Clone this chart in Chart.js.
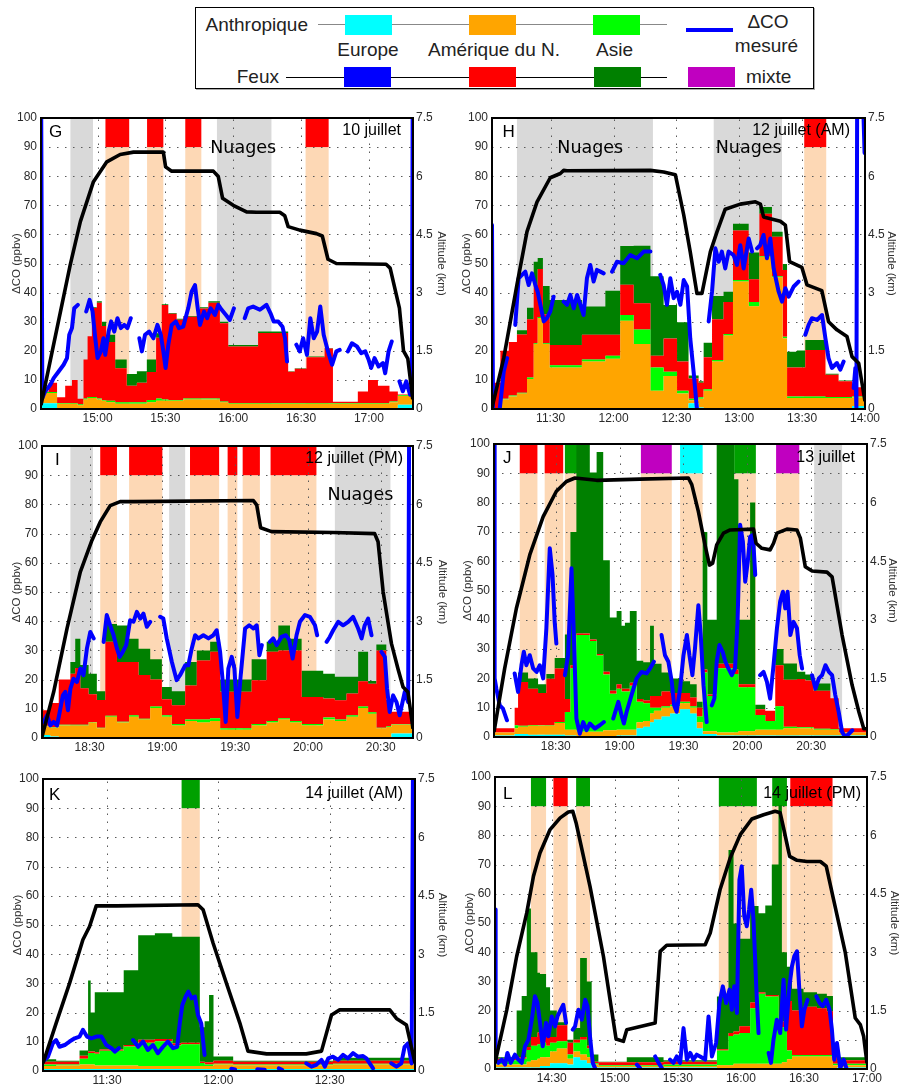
<!DOCTYPE html>
<html><head><meta charset="utf-8">
<script src="https://cdn.jsdelivr.net/npm/chart.js@4.4.1/dist/chart.umd.min.js"></script>
<style>
html,body{margin:0;padding:0;background:#fff;}
body{position:relative;width:901px;height:1084px;overflow:hidden;font-family:"Liberation Sans",Arial,sans-serif;color:#222;}
canvas{position:absolute;}
.abs{position:absolute;}
.lt{position:absolute;font-size:19px;line-height:19px;white-space:nowrap;color:#222;}
.c{transform:translateX(-50%);}
</style></head><body>
<div class="abs" style="left:195px;top:7px;width:617px;height:80px;border:1.5px solid #000;box-shadow:1px 1px 0 #aaa;"></div>
<div class="lt" style="right:593px;top:14.6px;">Anthropique</div>
<div class="abs" style="left:318px;top:23.5px;width:349px;height:1.7px;background:#888;"></div>
<div class="abs" style="left:345px;top:15px;width:47px;height:20px;background:#00ffff;"></div>
<div class="abs" style="left:469px;top:15px;width:47px;height:20px;background:#ffa500;"></div>
<div class="abs" style="left:593px;top:15px;width:47px;height:20px;background:#00ff00;"></div>
<div class="lt c" style="left:368px;top:40px;">Europe</div>
<div class="lt c" style="left:494px;top:40px;">Amérique du N.</div>
<div class="lt c" style="left:614.5px;top:40px;">Asie</div>
<div class="lt" style="right:622px;top:66.6px;">Feux</div>
<div class="abs" style="left:286px;top:76.8px;width:381px;height:1.7px;background:#000;"></div>
<div class="abs" style="left:344px;top:67px;width:47px;height:20px;background:#0000ff;"></div>
<div class="abs" style="left:469px;top:67px;width:47px;height:20px;background:#ff0000;"></div>
<div class="abs" style="left:594px;top:67px;width:47px;height:20px;background:#008000;"></div>
<div class="abs" style="left:688px;top:67px;width:47px;height:20px;background:#c000c0;"></div>
<div class="lt" style="left:746px;top:66.6px;">mixte</div>
<div class="abs" style="left:686px;top:28px;width:47px;height:4px;background:#0000ff;"></div>
<div class="lt c" style="left:768px;top:11.6px;">ΔCO</div>
<div class="lt c" style="left:766.5px;top:35.6px;">mesuré</div>
<script>
// ===== DATA (times in minutes since midnight, ΔCO in ppbv, altitude in km) =====
// ---- G : 10 juillet ----
const G_range = [875, 1039.5];
const G_t   = [875.0,878.4,882.1,885.7,888.7,891.2,893.8,895.6,897.5,899.7,901.9,903.8,907.8,912.9,917.4,921.8,925.9,928.4,931.3,935.0,937.9,945.3,949.0,954.1,957.8,971.0,984.3,987.2,992.4,1000.4,1004.1,1015.1,1019.6,1024.0,1029.1,1032.8,1039.5];
const G_euAnthro = [2,2,0.3,0.3,0.3,0.3,0.3,0.3,0.3,0.3,0.3,0.3,0.3,0.3,0.3,0.3,0.3,0.3,0.3,0.3,0.3,0.3,0.3,0.3,0.3,0.3,0.3,0.3,0.3,0.3,0.3,0.3,0.3,0.3,0.3,1.5,1.5];
const G_naAnthro = [3.5,3.5,1.5,1.5,1.5,1,3,3.5,3.5,3,2.5,2,1.5,1.5,1.5,2,2.5,2.5,2.5,2.5,3,3,3,2,1.5,1.5,1.5,1.5,1.5,1.5,1.5,1.5,1.5,1.5,2,3,3];
const G_asAnthro = [0.3,0.3,0.3,0.3,0.3,0.3,0.3,0.3,0.3,0.3,0.3,0.5,0.5,0.5,0.5,0.8,0.8,0.5,0.3,0.3,0.3,0.3,0.3,0.3,0.3,0.3,0.3,0.3,0.3,0.3,0.3,0.3,0.3,0.3,0.3,0.2,0.2];
const G_naFire = [0.2,3.2,1.9,5.9,7.9,1.9,13.4,20.9,30.6,32.9,25.4,20.2,11.7,5.7,6.7,9.6,20.9,32.4,29.6,27.6,28.1,30.9,32.9,26.9,19.4,24,10.7,11.7,15.7,18.7,0.4,3.9,7.9,5.9,3.4,0.3,0.3];
const G_asFire = [0,0,0,0,0,0,0,0,0.3,0.5,1.5,2.5,3,4,4,4.3,1.5,0.3,0.3,0.3,0.3,0.5,0.5,0.5,0.5,0.5,0.2,0.2,0.2,0.2,0,0,0,0,0,0,0];
const G_coMeasured = [[875.0,120],[875.6,3.8],[876.9,6.1],[879.1,8.3],[880.6,10.6],[882.8,12.9],[885.0,15.2],[886.5,17.5],[887.5,25.5],[888.7,27.8],[889.7,34.6],[891.3,35.8],null,
 [895.0,33.5],[896.5,37.5],[897.8,33.5],[899.0,24.3],[900.0,17.5],[901.5,19.8],[902.6,24.3],[903.4,18.6],[904.9,26.6],[906.0,30.1],[907.4,26.6],[908.8,31.2],[910.3,27.8],[911.8,28.9],[913.2,27.8],[914.7,31.2],null,
 [918.5,24.3],[919.6,19.8],[921.0,25.5],[922.8,26.6],[924.7,24.3],[926.5,28.9],[928.0,25.5],[929.1,19.8],[930.1,14.1],[931.3,22.1],[932.8,28.9],[934.6,30.1],[936.0,27.8],[937.9,28.3],[940.1,34.6],[941.6,40.3],[943.1,42.6],[944.1,35.8],[945.3,28.9],[947.1,33.5],[948.5,31.2],[950.0,34.6],[951.9,32.3],[953.4,35.8],[954.9,34.1],[956.8,32.3],[958.5,30.6],[960.3,34.6],null,
 [965.1,31.2],[966.6,34.6],[968.8,35.2],[971.8,34.1],[974.7,35.8],[976.5,32.9],[977.9,30.1],[979.9,30.1],[981.8,28.3],[982.9,24.3],[983.8,16.3],null,
 [987.9,22.1],[989.4,19.8],[990.9,24.3],[992.6,18.6],[994.1,31.2],[995.6,24.3],[997.1,26.6],[998.5,35.2],[1000.0,25.5],[1001.9,19.8],[1003.7,15.2],[1005.6,19.8],[1007.1,20.3],null,
 [1010.7,19.8],[1012.5,22.6],[1014.7,21.5],[1016.6,19.2],[1018.4,19.8],[1019.9,16.9],[1021.0,14.1],[1022.5,17.5],[1024.3,14.6],[1026.2,15.8],[1027.2,12.3],[1028.7,19.8],[1030.1,23.2],null,
 [1033.5,9.5],[1035.0,6.1],[1036.5,9.5],[1038.2,4.9],[1039.0,6],[1039.4,120]];
const G_altitude = [[875.0,0.1],[887.9,3.71],[892.4,4.83],[898.2,5.86],[904.1,6.37],[910.0,6.56],[915.9,6.62],[929.1,6.62],[930.1,6.24],[932.8,6.13],[951.2,6.13],[953.4,5.99],[955.3,5.43],[960.0,5.25],[965.9,5.08],[970.3,5.07],[980.6,5.07],[982.8,4.98],[984.3,4.70],[989.4,4.61],[996.8,4.52],[999.4,4.46],[1001.9,3.86],[1005.6,3.75],[1027.6,3.73],[1029.4,3.63],[1033.5,2.6],[1035.3,1.5],[1037.2,1.3],[1039.4,0.25]];
const G_clouds = [[888,898],[952.8,976.9]];
const G_plumes = [[903.5,914,'na'],[921.9,929.1,'na'],[938.8,945.9,'na'],[992,1002.2,'na']];
const G_cloudLabels = [[964.4,88]];

// ---- H : 12 juillet (AM) ----
const H_range = [662, 840];
const H_t = [662.0,666.0,670.0,673.9,678.7,681.9,683.8,686.3,689.5,704.9,716.1,723.2,729.6,737.6,743.9,750.3,755.8,760.6,763.0,767.0,772.5,777.0,784.5,789.6,795.6,800.7,802.8,807.5,811.5,821.1,827.4,833.8,840];
const H_euAnthro = [0.3,0.3,0.3,0.3,0.3,0.3,0.3,0.3,0.3,0.3,0.3,0.3,0.3,0.3,0.3,0.3,2,0.5,0.3,0.3,0.3,0.3,0.3,0.3,0.3,0.3,0.3,0.3,0.3,0.3,0.3,1,1];
const H_naAnthro = [0,3,4,5,10,22,31,22,14,16,17,30,22,6,11,5,1,3,6,16,25,43.5,35,52,45,24,3.5,3.5,3.5,3.5,3.5,3,3];
const H_asAnthro = [0,0.2,0.3,0.3,0.5,0.3,0.3,0.3,0.7,0.7,1,2,5,8,1.5,1,0.5,0.5,0.5,0.5,0.5,0.5,1.5,0.3,0.3,0.5,0.5,0.5,0.5,0.3,0.3,0.3,0.3];
const H_naFire = [8.7,16.5,18.4,20,20,20,16.5,10,7,8.5,7.2,10.4,9,4,11.4,10,7,5,11,14,11,17,7.8,14.5,13.6,23,10,10,16,7.7,5.4,3.2,3.2];
const H_asFire = [0,0,0,1.5,4,8,3.8,9.7,15.5,9.7,15.1,13.3,19.8,27.3,11.5,13.5,1,0.5,5,8,3.5,2.4,9.2,2.3,1.7,2,5.4,5.8,3.4,0.3,0.3,0,0];
const H_coMeasured = [[662.0,63.2],[662.5,0],null,[665.7,0],[667.6,12.9],[669.2,17.5],null,
 [673.1,28.9],[674.7,44.9],[676.3,46.1],[677.9,47.2],[679.5,42.6],[681.1,46.6],[682.7,42.6],[683.8,40.3],[685.1,35.8],[686.7,30.1],[688.2,31.2],[689.8,33.5],[691.4,38.6],null,
 [696.2,36.9],[697.8,35.8],[699.4,39.2],[701.0,34.6],[702.6,39.2],[704.2,35.8],[705.7,32.3],[707.3,44.9],[708.9,49.5],[710.5,43.8],[712.1,47.8],[713.7,47.2],[715.3,46.6],null,
 [719.3,47.2],[721.6,50.6],[724.8,50.1],[728.0,52.9],[731.2,51.8],[734.4,54.1],[737.6,54.1],null,
 [742.3,46.1],[743.9,42.6],[745.5,35.8],[747.1,44.9],[748.7,38.1],[750.3,40.3],[751.9,35.8],[753.5,44.3],[755.1,42.1],[756.6,24.3],[758.2,12.9],[759.8,0],null,
 [765.4,30.1],[767.0,40.3],[768.6,55.2],[770.2,50.6],[771.7,54.1],[773.3,48.3],[774.9,54.1],[777.3,52.9],[778.9,49.5],[780.5,56.3],[782.1,48.3],[784.5,58.6],[786.1,54.1],null,
 [788.5,55.2],[790.0,56.3],[791.6,59.8],[793.2,51.8],[794.8,58.6],[796.4,48.3],[798.8,40.3],[800.4,36.9],[802.0,41.5],[803.6,38.6],[806.0,42.1],[808.3,43.8],null,
 [811.5,25.5],[813.1,28.9],[814.7,31.2],[817.1,30.6],[819.5,32.3],[821.1,24.3],[822.6,17.5],[824.2,14.1],[826.6,15.8],[828.2,13.5],[829.8,16.3],null,
 [834.6,7.2],[835.4,14.1],[835.9,0],[836.3,120],null,[838.9,110],[839.8,88]];
const H_altitude = [[662.0,0.03],[667.6,1.31],[673.9,3.2],[678.7,4.57],[683.5,5.34],[689.8,5.96],[694.6,6.07],[696.2,6.15],[697.8,6.14],[737.6,6.15],[743.9,6.11],[749.5,6.04],[753.5,5.0],[756.6,4.05],[759.8,2.98],[762.2,2.98],[766.2,4.05],[769.4,4.57],[773.3,5.15],[780.5,5.28],[787.7,5.34],[790.1,5.28],[791.6,4.95],[799.6,4.84],[802.0,4.74],[804.0,3.8],[809.9,3.65],[812.3,3.2],[819.4,3.05],[822.6,2.25],[826.6,2.04],[831.4,1.87],[833.8,1.35],[837.0,1.18],[840,0.2]];
const H_clouds = [[673.9,738.8],[767.8,800.4]];
const H_plumes = [[811,821.5,'na']];
const H_cloudLabels = [[708.9,88],[784.5,88]];

// ---- I : 12 juillet (PM) ----
const I_range = [1090.4, 1243.3];
const I_t = [1090.4,1093.8,1097.3,1102.1,1104.1,1106.2,1109.6,1113.0,1116.5,1121.3,1126.3,1130.2,1135.0,1139.8,1143.9,1149.4,1154.2,1159.7,1163.8,1176.8,1183.0,1187.8,1192.6,1197.4,1206.3,1211.1,1215.9,1220.7,1224.8,1228.2,1232.3,1234.4,1243.3];
const I_euAnthro = [1,0.5,0.3,0.3,0.3,0.3,0.3,0.3,0.3,0.3,0.3,0.3,0.3,0.3,0.3,0.3,0.3,0.3,0.3,0.3,0.3,0.3,0.3,0.3,0.3,0.3,0.3,0.3,0.3,0.3,0.3,1.5,1.5];
const I_naAnthro = [3,3,4,4,4,4,5,3,7,5,7,6,10,7,4,5.5,5,5.5,2.5,4,5,6,5,4,6,5.5,7,10,8,3,3.5,3,3];
const I_asAnthro = [0.2,0.2,0.2,0.2,0.2,0.2,0.2,0.2,0.3,0.3,0.5,0.3,0.5,0.5,0.5,0.5,1,1,0.5,0.5,0.5,0.5,0.5,0.5,0.7,0.5,0.5,0.5,0.5,0.2,0.2,0.2,0.2];
const I_naFire = [5.3,8.3,15.5,17.5,19.5,12.5,9.5,9.5,25.4,20.4,18.2,15,9.2,5.5,6.4,11.7,20.2,22.7,12.5,15,23.7,23.2,24.2,9.2,6.5,6.6,7.4,8.6,9.8,26.5,9,4.3,4.3];
const I_asFire = [0,0,0,4,10,8,7,3,6,12.5,8,9,7,4.2,4.8,8,3.5,3.5,4.2,7.2,3.5,8.5,4,9,8.5,8.1,5.8,10.1,0.9,2,0,0,0];
const I_coMeasured = [[1091.1,5.5],[1092.5,7.8],[1093.8,4.3],[1095.2,5.5],[1096.6,4.3],[1097.7,8.9],[1099.0,14.6],[1100.0,15.8],[1101.1,9.5],[1102.1,16.9],[1103.4,20.3],[1104.8,19.2],[1106.2,23.8],[1107.5,21.5],[1108.9,30.6],[1110.3,36.3],[1111.7,34.1],null,
 [1115.8,32.9],[1117.1,42.1],[1118.5,38.6],[1119.9,35.2],[1121.3,30.6],[1122.4,27.8],[1123.7,29.5],[1125.1,31.8],[1126.7,40.3],[1128.1,39.8],[1129.5,43.2],[1130.9,40.9],[1132.2,42.6],[1133.6,38.1],[1135.0,39.8],null,
 [1139.1,41.5],[1140.4,40.9],[1141.8,34.1],[1143.9,26.1],[1145.9,19.8],[1147.3,21.5],[1149.4,24.9],[1150.7,24.9],[1152.1,30.6],[1153.5,35.2],[1154.9,34.1],[1156.9,35.2],[1159.0,34.1],[1161.0,35.2],[1162.4,36.9],[1163.8,29.5],[1164.9,19.2],[1166.1,5.5],[1167.2,23.8],[1168.6,27.8],[1169.7,23.8],[1170.9,7.2],[1172.3,21.5],[1174.1,37.5],[1175.8,38.6],[1177.5,37.5],[1178.9,38.6],[1180.0,28.3],[1181.0,31.8],null,
 [1184.3,32.9],[1185.7,34.1],[1187.1,31.8],[1189.1,34.6],[1190.9,35.2],[1192.3,33.5],[1193.7,27.2],[1195.3,35.2],[1196.7,39.8],[1198.8,42.1],[1200.8,41.5],[1202.9,38.6],[1203.8,35.2],null,
 [1207.7,32.9],[1209.0,34.6],[1210.4,36.9],[1212.5,39.8],[1214.5,38.6],[1216.6,39.8],[1218.6,41.5],[1220.7,37.5],[1222.1,34.1],[1223.4,38.6],[1224.8,40.9],[1226.2,35.2],null,
 [1230.3,29.5],[1231.7,27.8],[1232.6,16.9],[1233.7,8.9],[1235.1,14.6],[1236.5,12.3],[1237.8,7.8],[1239.9,15.8],[1241.3,12.3],[1241.8,130]];
const I_altitude = [[1090.4,0.03],[1095.2,1.18],[1100.7,2.81],[1106.2,4.27],[1111.0,5.08],[1114.4,5.55],[1118.5,5.97],[1122.6,6.07],[1128.1,6.07],[1177.5,6.1],[1178.9,5.98],[1180.5,5.4],[1185.0,5.3],[1210.4,5.28],[1227.5,5.25],[1228.9,5.04],[1231.0,3.75],[1234.4,2.43],[1237.1,1.78],[1239.2,1.31],[1241.2,1.18],[1243.3,0.24]];
const I_clouds = [[1102.1,1111.4],[1142.8,1149.4],[1211.1,1234.0]];
const I_plumes = [[1114.4,1121.3,'na'],[1126.3,1140.0,'na'],[1151.4,1163.4,'na'],[1166.9,1170.9,'na'],[1173.1,1180.2,'na'],[1184.6,1203.5,'na']];
const I_cloudLabels = [[1221.6,81.5]];

// ---- J : 13 juillet ----
const J_range = [1081, 1256.2];
const J_t = [1081.0,1090.7,1092.3,1097.0,1101.7,1105.6,1109.5,1114.3,1116.9,1119.7,1122.9,1126.0,1129.2,1132.3,1135.4,1138.6,1140.9,1142.5,1144.8,1148.0,1151.1,1154.3,1156.1,1159.7,1163.7,1168.4,1173.1,1176.2,1179.0,1181.2,1185.6,1193.8,1195.8,1201.3,1203.7,1208.4,1213.1,1217.0,1223.3,1227.2,1231.1,1239.0,1242.9,1256.2];
const J_euAnthro = [0.5,1,1,0.8,0.8,0.8,0.8,0.5,0.5,0.3,0.3,0.3,0.3,0.3,0.3,0.5,0.5,0.5,0.5,3,3.5,5,6,7,8,9.5,8,3,1,1,0.5,0.5,0.5,0.5,0.5,0.5,0.5,0.5,0.5,0.5,0.5,0.5,0.5,0.5];
const J_naAnthro = [1,2,2.5,3,3,3,4,2,2,1.5,1.5,1.5,1.5,2,2,2,2,2,2,2,2,3,3,3,2.5,2,2,2,1,1,1,1,1.5,1.5,2,2,2,2.5,2.5,2.5,2,2,1,1];
const J_asAnthro = [0,1,0.3,0.3,0.2,0.2,0.3,6,21,33,33,31,26,19,12.5,14,13,13,15,7,6,2,1,0.5,0.5,0.5,0.5,2,20,12,22,20,15,15,5,3,8,0.5,0.3,0.3,0.3,0.2,0,0];
const J_naFire = [1.5,6,15,12.4,11,15.9,18.3,4.5,1,0.5,0.5,0.5,0.5,1,1,1.5,1,1,1,1,1,4,4,5,4,3,3,3,1,0.5,1.5,1.5,1,1,2,3.5,14,16,16.5,16,13,10.5,1.5,1.5];
const J_asFire = [0,0,3.2,3.5,3,1.6,3.6,22,45.5,65,65,57,69,38,25,25,21.5,22.5,24.5,13,13,24,11,6.5,5,4,4.5,2,47,25.5,75,65,22,62,1.5,0,5.5,5.6,2.5,2,2.5,0,0,0];
const J_coMeasured = [[1081.0,120],[1081.3,20],[1082.1,16.5],[1083.7,10.8],[1085.2,9.7],[1087.1,5.7],null,
 [1090.7,21.7],[1092.3,15.4],[1093.9,24.5],[1095.0,29.1],[1096.2,24.5],[1097.8,27.9],[1099.4,23.4],[1101.0,22.2],[1102.5,24.5],[1104.1,20.0],[1105.6,37.1],[1107.2,64.4],[1108.5,55.3],[1109.5,39.3],[1110.3,31.9],null,
 [1114.3,21.1],[1115.8,27.9],[1117.4,57.6],[1118.5,34.8],[1119.7,6.3],[1121.3,1.1],[1122.9,5.1],[1124.5,2.3],[1126.0,4.6],[1128.4,2.9],[1130.7,4.0],[1132.6,5.1],null,
 [1137.0,6.3],[1139.4,12.0],[1140.9,7.4],[1142.0,4.6],[1143.3,8.6],[1145.6,14.3],[1148.0,20.0],[1150.3,22.2],[1152.7,21.7],[1154.3,23.4],[1156.1,25.7],null,
 [1159.7,34.8],[1161.3,27.9],[1162.9,25.7],[1164.5,18.8],[1165.6,10.8],[1166.8,8.6],[1168.4,16.5],[1170.0,27.9],[1171.6,34.8],[1172.8,27.9],[1174.2,21.1],[1175.4,30.2],[1177.0,45.0],[1178.1,34.8],[1179.4,17.7],[1180.9,5.1],null,
 [1183.3,10.8],[1184.5,13.1],[1185.6,25.7],[1186.9,31.4],[1188.4,29.1],[1189.7,25.7],[1191.1,23.4],[1192.7,21.1],[1194.2,23.4],[1195.4,39.3],[1196.6,72.4],[1197.9,66.7],[1199.0,53.0],[1200.2,59.9],[1201.3,68.4],[1202.6,69.0],[1203.7,55.3],null,
 [1206.0,21.1],[1207.6,22.2],[1209.2,18.8],[1210.7,13.1],[1212.3,24.5],[1213.9,37.1],[1215.4,46.2],[1216.7,49.6],[1217.8,43.9],[1218.9,49.6],[1220.2,34.8],[1221.7,39.3],[1223.3,37.1],[1224.6,27.9],[1225.7,23.4],null,
 [1230.4,21.1],[1232.0,16.5],[1233.6,20.0],[1235.1,21.1],[1236.7,24.5],[1238.3,22.2],[1239.8,21.1],[1241.3,14.3],[1242.9,8.6],[1244.5,1.7],[1246.1,0],[1247.7,1.1],[1249.3,2.3]];
const J_altitude = [[1081.0,0.13],[1086.0,1.75],[1091.5,3.29],[1097.8,4.66],[1104.1,5.64],[1110.3,6.29],[1115.0,6.54],[1119.0,6.63],[1129.2,6.57],[1149.5,6.6],[1172.3,6.63],[1173.9,6.46],[1177.0,5.77],[1180.1,4.92],[1182.2,4.40],[1183.7,4.45],[1185.6,4.92],[1188.8,5.22],[1191.9,5.30],[1202.9,5.32],[1204.1,4.96],[1206.8,4.83],[1210.7,4.79],[1212.3,4.96],[1213.9,5.22],[1218.6,5.32],[1223.3,5.30],[1224.9,5.09],[1227.2,4.36],[1230.4,4.25],[1237.4,4.22],[1239.8,4.10],[1244.5,2.61],[1249.2,1.33],[1252.4,0.64],[1254.7,0.21],[1256.2,0.21]];
const J_clouds = [[1231.4,1244.5]];
const J_plumes = [[1093.1,1101.4,'na'],[1104.8,1113.5,'na'],[1114.3,1122.9,'as'],[1150.0,1164.5,'mix'],[1168.4,1179.0,'eu'],[1193.8,1204.0,'as'],[1213.5,1224.4,'mix']];
const J_cloudLabels = [];

// ---- K : 14 juillet (AM) ----
const K_range = [672.75, 773];
const K_t = [672.75,676.3,682.6,684.9,685.6,686.7,688.0,694.5,698.4,702.9,707.6,710.0,715.0,716.3,717.5,718.7,724.0,750.9,773];
const K_euAnthro = [0.7,0.7,0.7,0.7,0.7,0.7,0.7,0.7,0.7,0.7,0.7,0.7,0.7,0.7,0.7,0.7,0.7,0.7,0.7];
const K_naAnthro = [1,1.2,1.5,1.5,1.5,1.2,1.2,1.2,1,1,1,1,1,1,1,1.5,1.3,1.5,1.5];
const K_asAnthro = [0.5,0.3,2,4,4,4,5,6.5,8,8.5,7,7.5,1,0.5,0.5,0.3,0.2,0.3,0.3];
const K_naFire = [1,1,1,0.5,0.5,0.5,0.5,0.5,1,0.8,0.8,0.5,0.5,0.8,0.8,1,1,1,1];
const K_asFire = [0.8,0.3,1.8,24.3,13.3,20.6,19.6,25.6,35.8,36.2,36.5,36.3,11.8,14,23,1.5,0.3,1,1];
const K_coMeasured = [[673.2,3.8],[674.1,4.9],[675.4,9.5],[676.3,10.6],[677.2,8.3],[678.6,8.9],[679.9,10.1],[681.3,11.2],[682.6,11.8],[683.5,14.1],[684.6,11.8],[685.8,11.2],[687.1,11.8],[688.5,11.8],[689.8,8.9],[691.2,7.8],[692.1,6.6],[693.2,7.8],null,
 [697.0,10.6],[698.4,8.3],[699.7,10.1],[701.0,7.2],[702.4,8.9],[703.7,6.1],[705.1,8.3],[706.4,10.1],[707.8,7.8],[708.9,8.3],[709.6,16.3],[710.3,22.6],[711.2,25.5],[711.9,27.2],[712.8,24.9],[713.7,25.5],[714.5,19.2],[715.4,16.3],[716.3,5.5],null,
 [723.5,0.8],[724.5,0.5],null,[730.5,0.6],[732.5,0.4],null,[736.3,0.9],[737.2,0.4],null,
 [743.7,2.6],[745.1,1.5],[746.4,2.1],[747.8,3.8],[748.7,1.5],[749.6,4.3],[750.9,4.9],[752.3,3.8],[753.6,5.5],[754.9,4.3],[756.3,6.1],[757.6,4.9],[759.0,5.1],[759.9,4.3],[760.8,2.6],[761.7,0.9],null,
 [766.6,2.6],[768.0,1.5],[769.3,2.6],[770.2,8.3],[771.1,9.5],[772.1,2.6],[772.5,120]];
const K_altitude = [[672.75,0.2],[676.3,1.23],[679.9,2.25],[683.5,3.37],[685.3,3.71],[687.1,4.24],[692.5,4.24],[714.5,4.27],[715.9,4.14],[718.6,3.28],[722.2,2.25],[725.8,1.23],[728.0,0.51],[733.0,0.44],[743.7,0.44],[747.8,0.51],[750.5,1.44],[752.7,1.57],[766.2,1.57],[768.0,1.35],[770.7,1.18],[773.0,0.2]];
const K_clouds = [];
const K_plumes = [[710.1,715.0,'as']];
const K_cloudLabels = [];

// ---- L : 14 juillet (PM) ----
const L_range = [843, 1020];
const L_t = [843.0,853.3,855.7,858.1,860.1,863.2,864.4,867.3,869.2,872.4,877.4,880.3,883.5,886.7,889.0,892.2,905.7,923.2,948.6,954.1,956.5,959.3,964.4,968.4,971.6,974.7,977.9,979.5,981.9,984.3,989.8,996.2,1000.9,1003.8,1005.7,1020];
const L_euAnthro = [0.5,0.5,0.5,0.5,0.5,0.5,1,1,2,2,1.5,4,3,2,0.5,0.5,0.5,0.5,0.3,0.3,0.3,0.3,0.3,0.3,0.3,0.3,0.3,0.3,0.3,0.3,0.3,0.3,0.3,0.3,0.5,0.5];
const L_naAnthro = [1,1,1,2,2.5,3,3,3,4,5,2,2,2,2,1,0.5,0.5,0.5,1,1,1.5,1.5,1.5,1.5,1.5,1.5,1.5,2,3,4,4,4,4,1,0.8,0.8];
const L_asAnthro = [1.5,2,2,4,5,5,5,4,3,2.5,1.5,3,5,3,0.5,0.3,0.3,0.5,5,10,10,10.5,19,24,23,23,12,12,3,0.5,0.5,0.5,0.5,0.5,0.5,0.5];
const L_naFire = [0.5,0.5,0.5,1,3,4,3,3,2,5.5,4,1,1,1,0.5,1,1,1,0.5,1,1,2.3,2,0.5,0.5,0.5,0.5,2,17,15.2,16.5,16,15,4,1.2,1.2];
const L_asFire = [0.5,16,21,47.5,29,20.5,20.5,17,9,1,1,4,27,22,2.5,0.2,1.7,0.5,18,62.7,37,30,33,27,30.7,44.7,76,23.7,11.7,7.5,5,5,5.2,2.2,1,1];
const L_coMeasured = [[843.0,54.6],[843.3,3],[844.6,2.1],[846.2,3.2],[847.8,1.5],[848.9,5.5],[850.5,2.1],[852.5,4.9],[854.1,3.2],[855.7,2.1],[857.3,7.8],[858.9,10.0],[860.5,16.9],[862.0,24.9],[863.2,22.6],[864.4,15.8],[865.7,7.8],[867.3,15.8],[868.4,11.2],[870.0,18.0],[871.6,14.6],[872.7,18.0],[874.3,20.3],[875.5,22.0],[876.8,15.8],null,
 [880.0,13.5],[881.1,14.6],[882.7,20.3],[884.3,16.9],[885.9,23.7],[887.0,21.5],[888.2,11.2],[889.5,2.1],[890.6,0.3],null,
 [910.5,1.5],[912.0,0.3],null,[919.2,4.3],[920.8,2.1],[922.4,0.3],null,
 [926.3,3.2],[927.9,2.1],[929.5,4.3],[931.1,2.1],[932.7,14.0],[934.3,3.2],[935.9,5.5],[937.4,3.2],[939.0,4.9],[940.6,4.3],[943.0,3.2],[944.6,18.0],[946.2,4.3],[948.2,8.9],[949.8,22.6],[951.4,28.3],[953.0,22.6],[954.6,27.2],[955.7,20.3],[956.8,28.3],[958.1,19.2],[959.3,64.8],[960.4,69.4],[961.6,52.3],[962.8,48.9],[963.9,54.6],[964.9,61.4],[966.0,51.1],[967.3,28.3],[968.4,12.3],null,
 [973.2,5.5],[974.3,2.1],[975.5,10.0],[977.1,16.9],[978.7,12.3],[980.3,30.6],[981.5,13.5],[983.1,28.3],[984.3,35.2],[985.4,38.6],[986.7,40.3],[987.8,27.2],[989.0,14.6],[990.2,20.3],[991.7,23.7],null,
 [995.9,24.9],[997.4,22.6],[999.0,21.5],[1000.6,23.7],[1002.2,20.3],[1003.3,13.5],[1004.4,3.2],[1005.7,8.9],[1007.3,0.3],[1008.9,3.2],[1010.2,0.3]];
const L_altitude = [[843.0,0.15],[848.6,1.52],[853.3,2.89],[858.1,4.01],[861.3,4.95],[864.4,5.55],[869.2,6.15],[874.0,6.45],[877.9,6.6],[880.0,6.62],[881.6,6.32],[888.2,4.69],[894.6,2.89],[900.6,0.77],[904.1,0.71],[905.7,1.01],[919.2,1.18],[921.6,3.02],[924.7,3.18],[943.0,3.19],[945.4,3.49],[950.1,4.61],[954.9,5.42],[959.7,6.02],[965.2,6.42],[970.8,6.53],[976.3,6.62],[978.7,6.58],[980.3,6.19],[983.2,5.46],[986.7,5.36],[991.4,5.33],[997.8,5.33],[1000.6,5.21],[1004.1,4.35],[1009.7,2.98],[1014.4,1.31],[1016.8,1.14],[1018.4,0.84],[1020.0,0.15]];
const L_clouds = [];
const L_plumes = [[860.1,867.3,'as'],[870.8,877.6,'na'],[881.6,888.2,'as'],[949.5,967.6,'as'],[974.9,981.9,'as'],[983.5,1003.6,'na']];
const L_cloudLabels = [];

// ===== STYLE =====
const LAYER_COLORS = ['#00ffff','#ffa500','#00ff00','#ff0000','#008000'];
const TOP_COLORS = {na:'#ff0000', as:'#00a000', mix:'#c000c0', eu:'#00ffff'};
const CLOUD_COLOR = '#d9d9d9';
const PLUME_COLOR = '#fdd8b5';

Chart.defaults.font.family = "'Liberation Sans', Arial, sans-serif";

const PANELS = [
 {letter:'G', date:'10 juillet', range:G_range, t:G_t, layers:[G_euAnthro,G_naAnthro,G_asAnthro,G_naFire,G_asFire], co:G_coMeasured, alt:G_altitude, clouds:G_clouds, plumes:G_plumes, cloudLabels:G_cloudLabels,
  box:{left:0,top:100,w:450,h:330}, leftW:41, rightW:37, padTop:18, bottomH:21, ytp:9.8, y2tp:2.4, ldx:8, ldy:19, ddx:12, ddy:16.5},
 {letter:'H', date:'12 juillet (AM)', range:H_range, t:H_t, layers:[H_euAnthro,H_naAnthro,H_asAnthro,H_naFire,H_asFire], co:H_coMeasured, alt:H_altitude, clouds:H_clouds, plumes:H_plumes, cloudLabels:H_cloudLabels,
  box:{left:450,top:100,w:451,h:330}, leftW:42, rightW:36, padTop:18, bottomH:21, ytp:9.8, y2tp:3.4, ldx:10.5, ldy:19, ddx:15, ddy:17},
 {letter:'I', date:'12 juillet (PM)', range:I_range, t:I_t, layers:[I_euAnthro,I_naAnthro,I_asAnthro,I_naFire,I_asFire], co:I_coMeasured, alt:I_altitude, clouds:I_clouds, plumes:I_plumes, cloudLabels:I_cloudLabels,
  box:{left:0,top:430,w:450,h:335}, leftW:42, rightW:37, padTop:16, bottomH:27, ytp:9.8, y2tp:0.5, ldx:13, ldy:19, ddx:10, ddy:17},
 {letter:'J', date:'13 juillet', range:J_range, t:J_t, layers:[J_euAnthro,J_naAnthro,J_asAnthro,J_naFire,J_asFire], co:J_coMeasured, alt:J_altitude, clouds:J_clouds, plumes:J_plumes, cloudLabels:J_cloudLabels,
  box:{left:450,top:430,w:451,h:335}, leftW:44, rightW:34, padTop:14, bottomH:28, ytp:11.4, y2tp:2.4, ldx:9, ldy:19, ddx:12, ddy:18},
 {letter:'K', date:'14 juillet (AM)', range:K_range, t:K_t, layers:[K_euAnthro,K_naAnthro,K_asAnthro,K_naFire,K_asFire], co:K_coMeasured, alt:K_altitude, clouds:K_clouds, plumes:K_plumes, cloudLabels:K_cloudLabels,
  box:{left:0,top:765,w:450,h:319}, leftW:43, rightW:35, padTop:14, bottomH:13, ytp:11.4, y2tp:1.4, ldx:6, ldy:21, ddx:12, ddy:19},
 {letter:'L', date:'14 juillet (PM)', range:L_range, t:L_t, layers:[L_euAnthro,L_naAnthro,L_asAnthro,L_naFire,L_asFire], co:L_coMeasured, alt:L_altitude, clouds:L_clouds, plumes:L_plumes, cloudLabels:L_cloudLabels,
  box:{left:450,top:765,w:451,h:319}, leftW:45, rightW:34, padTop:12, bottomH:15, ytp:13.1, y2tp:0, ldx:8, ldy:22, ddx:6, ddy:21}
];

function toPoints(pairs){
  const out=[]; let last=null;
  for(const p of pairs){
    if(p===null){ out.push({x:last, y:null}); }
    else { out.push({x:p[0], y:p[1]}); last=p[0]; }
  }
  return out;
}
function fmtTime(v){ const h=Math.floor(v/60); const m=Math.round(v-h*60); return h+':'+String(m).padStart(2,'0'); }

// background bands (clouds / plume periods) + dotted grid, drawn under the data through the chart scales
const bandPlugin = {
  id:'bands',
  beforeDraw(chart, args, o){
    const {ctx, chartArea:a, scales} = chart;
    const x = scales.x, yb = scales.yb, y = scales.y;
    ctx.save();
    ctx.beginPath(); ctx.rect(a.left, a.top, a.right-a.left, a.bottom-a.top); ctx.clip();
    const y0 = yb.getPixelForValue(0), y90 = yb.getPixelForValue(90), y100 = yb.getPixelForValue(100);
    for(const [s,e] of o.clouds){
      const xs = x.getPixelForValue(s), xe = x.getPixelForValue(e);
      ctx.fillStyle = CLOUD_COLOR; ctx.fillRect(xs, y100, xe-xs, y0-y100);
    }
    for(const [s,e,k] of o.plumes){
      const xs = x.getPixelForValue(s), xe = x.getPixelForValue(e);
      ctx.fillStyle = PLUME_COLOR; ctx.fillRect(xs, y90, xe-xs, y0-y90);
      ctx.fillStyle = TOP_COLORS[k]; ctx.fillRect(xs, y100, xe-xs, y90-y100);
    }
    // dotted grid at the axis ticks
    ctx.strokeStyle = '#5a5a5a'; ctx.lineWidth = 1; ctx.setLineDash([1.5, 6.5]);
    ctx.beginPath();
    for(const tk of x.ticks){
      const px = Math.round(x.getPixelForValue(tk.value)) + 0.5;
      ctx.moveTo(px, a.bottom); ctx.lineTo(px, a.top);
    }
    for(const tk of y.ticks){
      const py = Math.round(y.getPixelForValue(tk.value)) + 0.5;
      ctx.moveTo(a.left, py); ctx.lineTo(a.right, py);
    }
    ctx.stroke();
    ctx.restore();
  }
};
const overlayPlugin = {
  id:'overlay',
  afterDatasetsDraw(chart, args, o){
    const {ctx, chartArea:a, scales} = chart;
    ctx.save();
    ctx.strokeStyle='#000'; ctx.lineWidth=2;
    ctx.strokeRect(a.left, a.top, a.right-a.left, a.bottom-a.top);
    ctx.fillStyle='#000'; ctx.textBaseline='alphabetic';
    ctx.font="17px 'Liberation Sans', Arial, sans-serif"; ctx.textAlign='left';
    ctx.fillText(o.letter, a.left+o.ldx, a.top+o.ldy);
    ctx.font="16px 'Liberation Sans', Arial, sans-serif"; ctx.textAlign='right';
    ctx.fillText(o.date, a.right-o.ddx, a.top+o.ddy);
    ctx.font="17.5px 'DejaVu Sans', sans-serif"; ctx.textAlign='center';
    for(const [t,v] of o.cloudLabels){
      ctx.fillText('Nuages', scales.x.getPixelForValue(t), scales.yb.getPixelForValue(v));
    }
    ctx.restore();
  }
};

function makePanel(p){
  const cv=document.createElement('canvas');
  cv.width=p.box.w; cv.height=p.box.h;
  cv.style.left=p.box.left+'px'; cv.style.top=p.box.top+'px';
  cv.style.width=p.box.w+'px'; cv.style.height=p.box.h+'px';
  document.body.appendChild(cv);

  const datasets=[];
  datasets.push({label:'Altitude', data:toPoints(p.alt), yAxisID:'y2', borderColor:'#000', borderWidth:3.6, pointRadius:0, fill:false, tension:0, borderJoinStyle:'round'});
  datasets.push({label:'ΔCO mesuré', data:toPoints(p.co), yAxisID:'yb', borderColor:'#0000ff', borderWidth:4, pointRadius:0, fill:false, spanGaps:false, tension:0, borderJoinStyle:'round', borderCapStyle:'round', clip:0});
  p.layers.forEach((vals,i)=>{
    datasets.push({label:'layer'+i, data:p.t.map((t,j)=>({x:t, y:vals[j]})), yAxisID:'y', stepped:true,
      borderWidth:0, pointRadius:0, backgroundColor:LAYER_COLORS[i], borderColor:LAYER_COLORS[i], fill: i===0 ? 'origin' : '-1'});
  });

  const xt=[]; for(let v=Math.ceil(p.range[0]/30-1e-6)*30; v<=p.range[1]+1e-6; v+=30) xt.push(v);
  const tickFont={size:12}, tickCol='#2a2a2a';

  new Chart(cv, {
    type:'line',
    data:{datasets},
    options:{
      responsive:false, animation:false, devicePixelRatio:1, events:[],
      layout:{padding:{top:p.padTop, left:0, right:0, bottom:0}},
      plugins:{legend:{display:false}, tooltip:{enabled:false},
        bands:{clouds:p.clouds, plumes:p.plumes},
        overlay:{letter:p.letter, date:p.date, cloudLabels:p.cloudLabels, ldx:p.ldx, ldy:p.ldy, ddx:p.ddx, ddy:p.ddy}},
      scales:{
        x:{type:'linear', min:p.range[0], max:p.range[1],
          afterBuildTicks:s=>{ s.ticks = xt.map(v=>({value:v})); },
          afterFit:s=>{ s.height=p.bottomH; },
          ticks:{callback:v=>fmtTime(v), font:tickFont, color:tickCol, padding:2, maxRotation:0, autoSkip:false},
          grid:{display:false, drawTicks:false},
          border:{display:false}},
        y:{position:'left', stacked:true, min:0, max:100,
          afterFit:s=>{ s.width=p.leftW; },
          ticks:{stepSize:10, font:tickFont, color:tickCol, padding:4, autoSkip:false},
          grid:{display:false, drawTicks:false},
          border:{display:false},
          title:{display:true, text:'ΔCO (ppbv)', color:'#333', font:{size:11.5}, padding:{top:p.ytp, bottom:0}}},
        yb:{display:false, min:0, max:100},
        y2:{position:'right', min:0, max:7.5,
          afterFit:s=>{ s.width=p.rightW; },
          ticks:{stepSize:1.5, font:tickFont, color:tickCol, padding:3, autoSkip:false},
          grid:{display:false, drawTicks:false},
          border:{display:false},
          title:{display:true, text:'Altitude (km)', color:'#333', font:{size:11.5}, padding:{top:p.y2tp, bottom:0}}}
      }
    },
    plugins:[bandPlugin, overlayPlugin]
  });
}
PANELS.forEach(makePanel);
</script>
</body></html>
